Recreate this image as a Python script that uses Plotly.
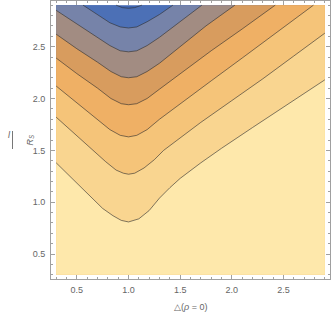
import plotly.graph_objects as go

# sampled domain of the contour plot
x_domain = [0.3, 2.9]
y_domain = [0.3, 2.9]

# contour lines (level 1 = lowest)
l1_x = [0.3, 0.5, 0.65, 0.75, 0.85, 0.93, 1.0, 1.1, 1.2, 1.3, 1.4, 1.5, 1.7, 1.9, 2.2, 2.5, 2.9]
l1_y = [1.38, 1.18, 1.03, 0.94, 0.87, 0.825, 0.81, 0.84, 0.92, 1.04, 1.14, 1.23, 1.38, 1.52, 1.72, 1.92, 2.18]

l2_x = [0.3, 0.5, 0.66, 0.78, 0.88, 0.95, 1.0, 1.06, 1.15, 1.25, 1.34, 1.5, 1.7, 2.0, 2.3, 2.6, 2.9]
l2_y = [1.82, 1.64, 1.50, 1.39, 1.31, 1.28, 1.27, 1.28, 1.33, 1.41, 1.50, 1.62, 1.77, 1.98, 2.19, 2.41, 2.63]

l3_x = [0.3, 0.5, 0.7, 0.82, 0.92, 1.0, 1.08, 1.18, 1.3, 1.5, 1.8, 2.1, 2.4, 2.79]
l3_y = [2.12, 1.96, 1.80, 1.70, 1.645, 1.63, 1.645, 1.70, 1.80, 1.95, 2.17, 2.39, 2.61, 2.9]

l4_x = [0.3, 0.5, 0.7, 0.83, 0.93, 1.0, 1.08, 1.18, 1.3, 1.5, 1.8, 2.1, 2.42]
l4_y = [2.39, 2.24, 2.10, 2.00, 1.95, 1.94, 1.95, 2.00, 2.09, 2.24, 2.46, 2.67, 2.9]

l5_x = [0.3, 0.5, 0.7, 0.83, 0.93, 1.0, 1.08, 1.18, 1.3, 1.5, 1.75, 2.03]
l5_y = [2.62, 2.48, 2.35, 2.26, 2.21, 2.20, 2.21, 2.26, 2.34, 2.50, 2.70, 2.9]

l6_x = [0.3, 0.5, 0.7, 0.82, 0.92, 1.0, 1.08, 1.18, 1.3, 1.5, 1.71]
l6_y = [2.85, 2.72, 2.59, 2.51, 2.46, 2.45, 2.46, 2.51, 2.59, 2.74, 2.9]

l7_x = [0.56, 0.7, 0.82, 0.92, 1.0, 1.08, 1.18, 1.3, 1.43]
l7_y = [2.9, 2.81, 2.73, 2.69, 2.68, 2.69, 2.74, 2.81, 2.9]

l8_x = [0.88, 0.94, 1.0, 1.06, 1.13]
l8_y = [2.9, 2.876, 2.87, 2.876, 2.9]

levels = [(l1_x, l1_y), (l2_x, l2_y), (l3_x, l3_y), (l4_x, l4_y),
          (l5_x, l5_y), (l6_x, l6_y), (l7_x, l7_y), (l8_x, l8_y)]

# band colours, lowest band first
band_colors = ["#FEE8AB", "#F9D590", "#F5C479", "#EFB065", "#D89C5E",
               "#A28C82", "#7683A9", "#4C70B6", "#4066B1"]

x_ticks = [0.5, 1.0, 1.5, 2.0, 2.5]
y_ticks = [0.5, 1.0, 1.5, 2.0, 2.5]

X0, X1 = x_domain
Y0, Y1 = y_domain

fig = go.Figure()

# top band fills the whole domain, lower bands painted over it
fig.add_trace(go.Scatter(x=[X0, X1, X1, X0], y=[Y0, Y0, Y1, Y1], fill="toself",
                         fillcolor=band_colors[-1], mode="lines", line_width=0,
                         hoverinfo="skip", showlegend=False))

for k in range(len(levels) - 1, -1, -1):
    lx, ly = levels[k]
    px, py = [], []
    if ly[0] >= Y1:  # line starts on the top edge
        px.append(X0)
        py.append(Y1)
    px += lx
    py += ly
    if ly[-1] >= Y1:  # line ends on the top edge
        px.append(X1)
        py.append(Y1)
    px += [X1, X0]
    py += [Y0, Y0]
    fig.add_trace(go.Scatter(x=px, y=py, fill="toself", fillcolor=band_colors[k],
                             mode="lines", line_width=0, hoverinfo="skip",
                             showlegend=False))

for lx, ly in levels:
    fig.add_trace(go.Scatter(x=lx, y=ly, mode="lines",
                             line=dict(color="rgba(45,45,45,0.6)", width=1),
                             hoverinfo="skip", showlegend=False))

axis_style = dict(
    showgrid=False, zeroline=False, showline=True, linecolor="#a0a0a0", linewidth=1,
    mirror="allticks", ticks="inside", ticklen=4, tickcolor="#a0a0a0", tickwidth=1,
    automargin=False,
    tickfont=dict(family="Liberation Sans", size=9, color="#666666"),
    minor=dict(ticks="inside", ticklen=2, dtick=0.1, tick0=0, tickcolor="#a0a0a0",
               showgrid=False),
)

fig.update_xaxes(range=[0.25, 2.95], tickvals=x_ticks,
                 ticktext=[f"{v:.1f}" for v in x_ticks], ticklabelstandoff=2, **axis_style)
fig.update_yaxes(range=[0.26, 2.94], tickvals=y_ticks,
                 ticktext=[f"{v:.1f}" for v in y_ticks], ticklabelstandoff=3, **axis_style)

label_font = dict(family="Liberation Sans", size=9, color="#666666")
fig.add_annotation(text="\u25b3(<i>\u03c1</i> = 0)", xref="paper", yref="paper", x=0.5, y=0,
                   yanchor="middle", yshift=-28, showarrow=False, font=label_font)
fig.add_annotation(text="<i>l</i>", xref="paper", yref="paper", x=0, y=0.5, xshift=-45,
                   yshift=5, showarrow=False, font=label_font)
fig.add_annotation(text="<i>R</i><sub><i>S</i></sub>", xref="paper", yref="paper", x=0, y=0.5,
                   xshift=-29, yshift=0, textangle=-90, showarrow=False, font=label_font)
fig.add_shape(type="line", xref="paper", yref="paper", xsizemode="pixel", ysizemode="pixel",
              xanchor=0, yanchor=0.5, x0=-38.5, x1=-38.5, y0=-9, y1=9,
              line=dict(color="#777777", width=1))

fig.update_layout(
    width=332, height=314,
    margin=dict(l=51, r=2, t=1, b=35),
    paper_bgcolor="white", plot_bgcolor="white",
)

# drop the browser's default page margin so the figure sits at the window corner
fig.write_html("out.html", config={"displayModeBar": False},
               post_script="document.body.style.margin='0';")
